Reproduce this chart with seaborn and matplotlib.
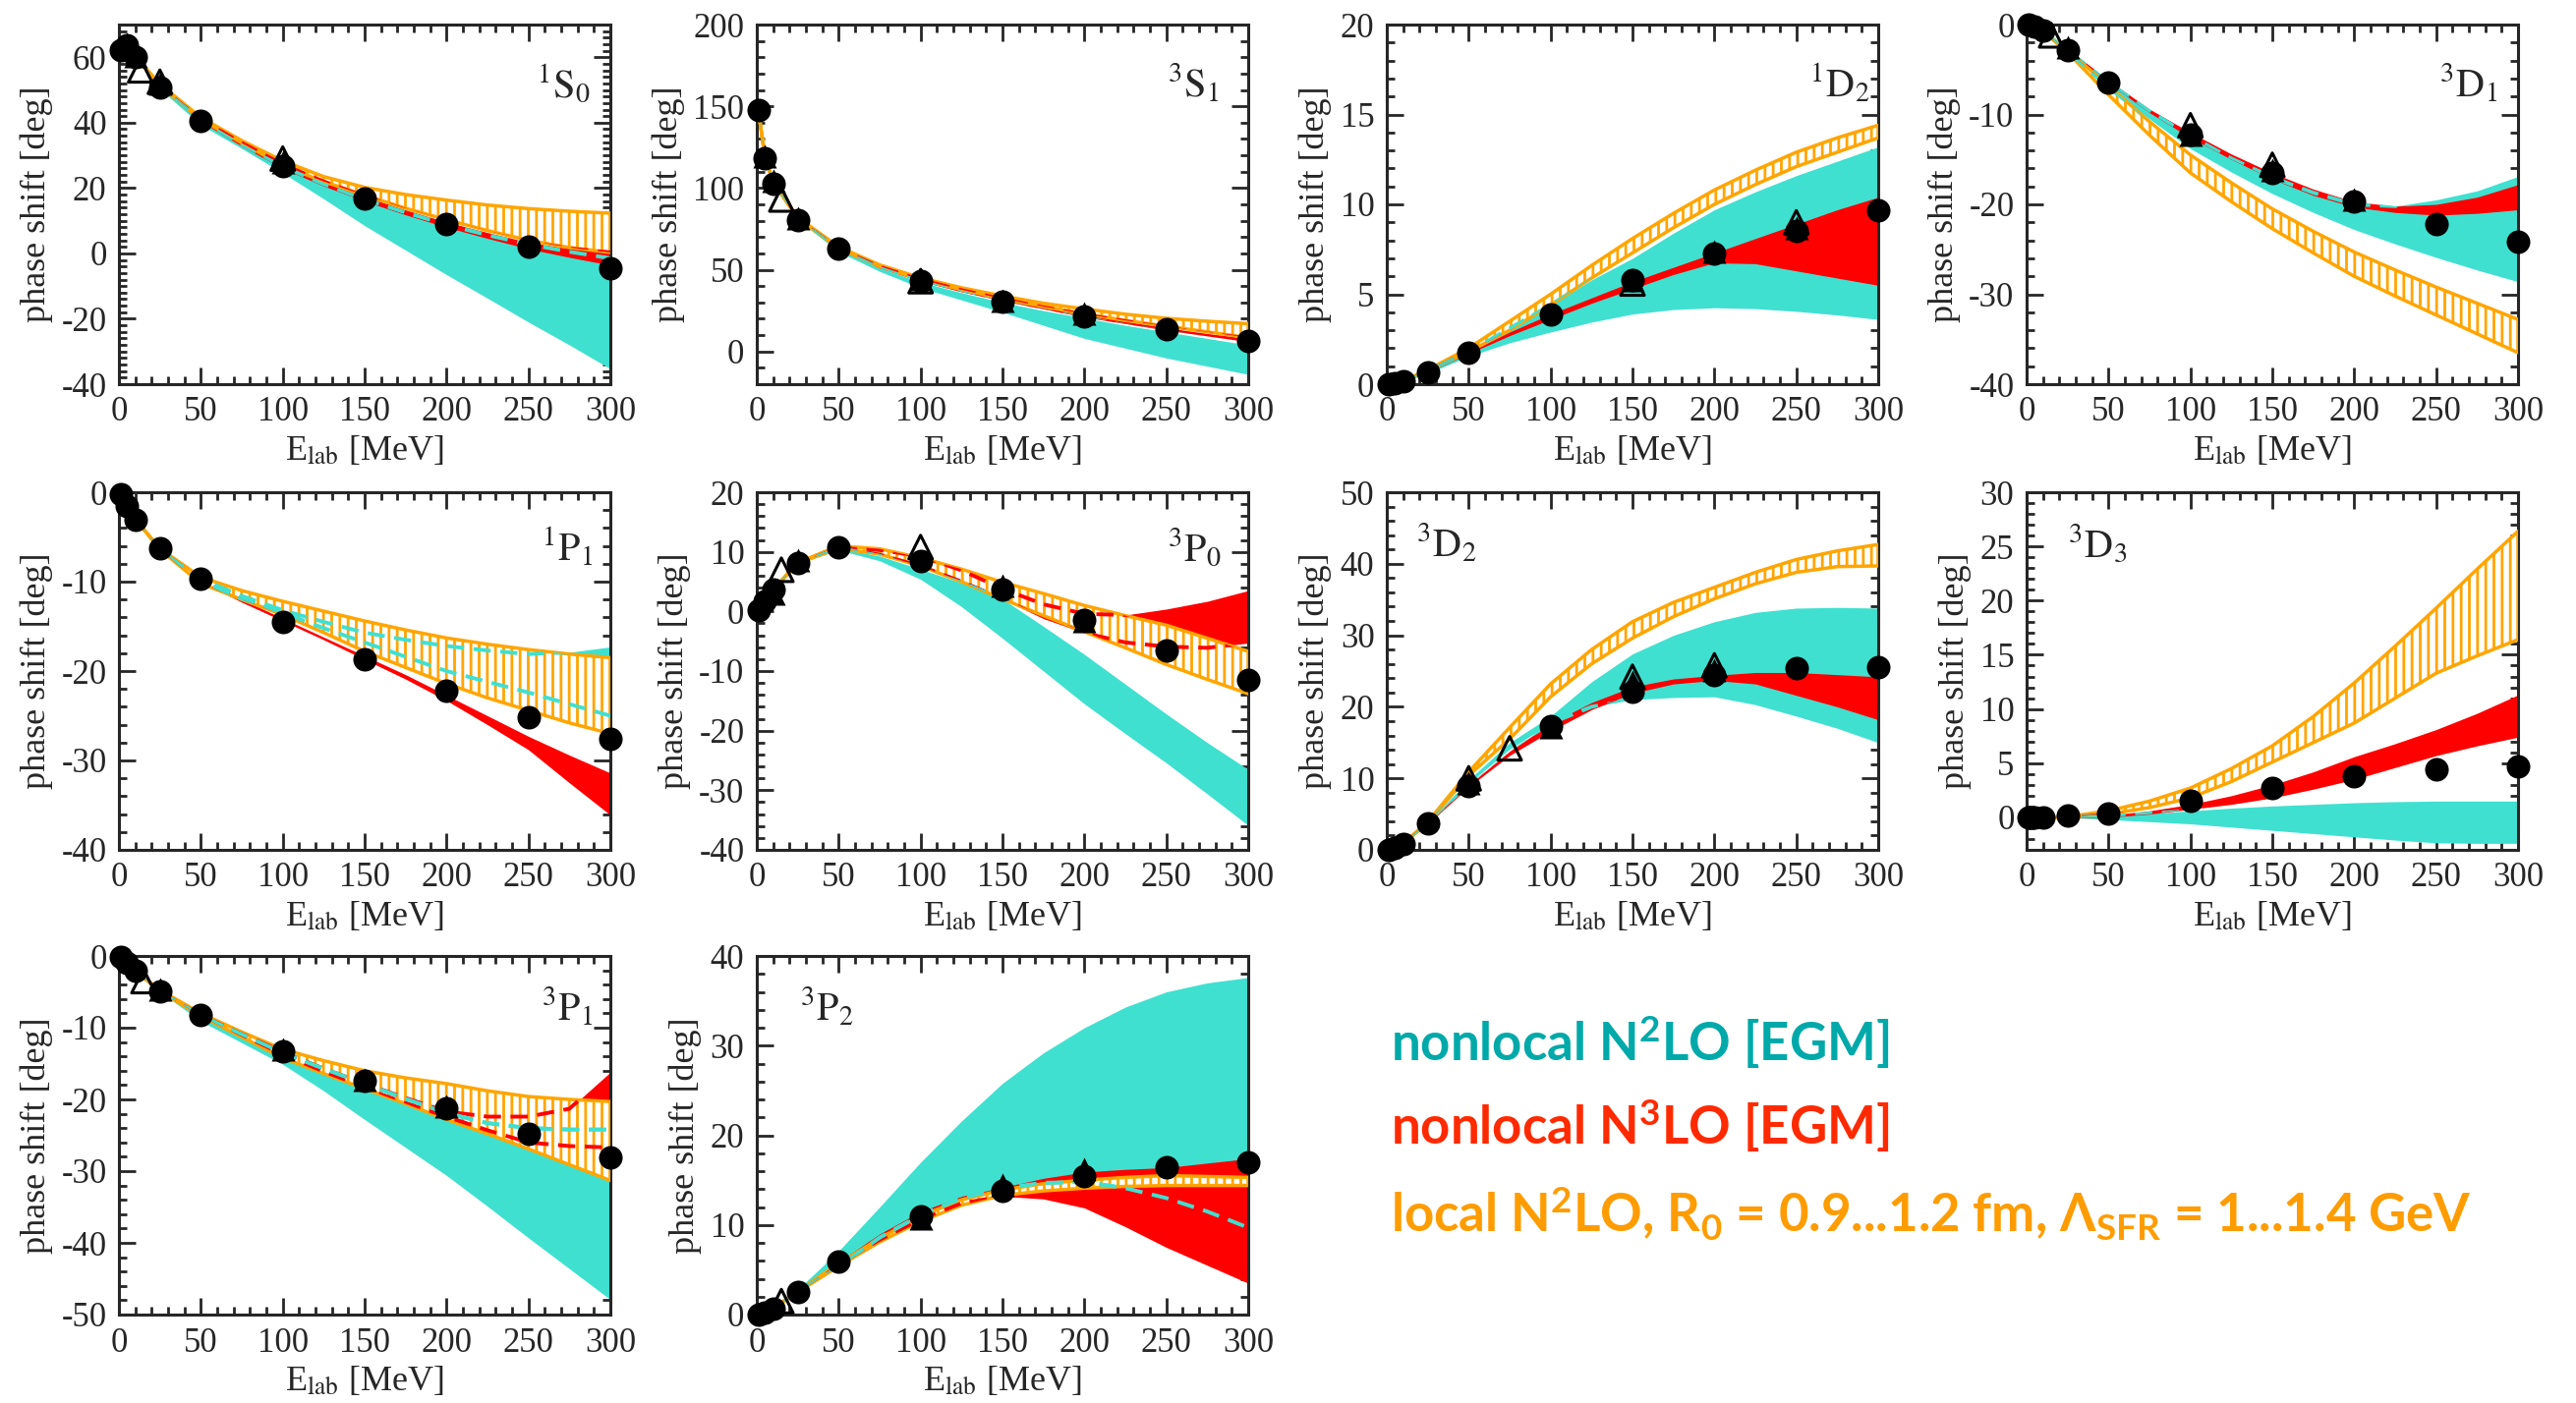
import numpy as np
import pandas as pd
import seaborn as sns
import matplotlib
matplotlib.use("Agg")
import matplotlib.pyplot as plt
from matplotlib.ticker import MultipleLocator

# energies [MeV]
e_band = [1, 5, 10, 25, 50, 75, 100, 125, 150, 175, 200, 225, 250, 275, 300]
e_pwa = [1, 5, 10, 25, 50, 100, 150, 200, 250, 300]

# ---------------- 1S0
s10_pwa = [62.1, 63.6, 60.0, 50.9, 40.5, 26.8, 16.9, 8.9, 2.0, -4.5]
s10_tri_e, s10_tri = [5, 10, 25, 100], [64.0, 60.5, 52.0, 28.0]
s10_otri_e, s10_otri = [13, 25, 100], [56.0, 52.5, 29.0]
s10_cyan_lo = [62.0, 63.4, 59.6, 50.3, 39.3, 32.1, 24.6, 16.7, 8.5, 1.0, -6.5, -13.7, -21.0, -28.0, -35.3]
s10_cyan_hi = [62.0, 63.6, 60.0, 51.0, 40.6, 32.8, 26.5, 21.0, 16.5, 12.5, 8.8, 5.6, 2.8, 0.5, -1.5]
s10_red_lo = [62.0, 63.6, 60.0, 50.9, 40.3, 32.8, 26.0, 20.6, 16.0, 11.8, 8.0, 4.6, 1.4, -1.2, -3.6]
s10_red_hi = [62.1, 63.7, 60.1, 51.3, 41.0, 33.8, 27.2, 22.0, 17.4, 13.3, 9.6, 6.4, 3.4, 1.5, 0.3]
s10_or_lo = [62.1, 63.7, 60.1, 51.3, 41.0, 33.8, 26.8, 22.0, 17.8, 13.8, 10.3, 7.0, 4.0, 1.8, 0.3]
s10_or_hi = [62.2, 63.8, 60.3, 51.8, 41.6, 34.5, 28.3, 23.5, 20.2, 18.0, 16.3, 14.8, 13.7, 12.9, 12.3]

# ---------------- 3S1
s31_pwa = [147.7, 118.2, 102.6, 80.6, 62.8, 43.2, 30.7, 21.2, 13.4, 6.6]
s31_tri_e, s31_tri = [5, 10, 25, 100, 150, 200], [119.5, 104.5, 81.5, 44.5, 31.0, 23.0]
s31_otri_e, s31_otri = [15, 100], [93.0, 43.0]
s31_cyan_lo = [146.0, 118.0, 102.5, 80.5, 61.0, 49.0, 39.0, 31.5, 24.0, 16.0, 8.0, 2.0, -4.0, -9.0, -14.0]
s31_cyan_hi = [146.5, 118.5, 103.0, 81.0, 62.5, 51.0, 42.5, 36.0, 30.0, 25.0, 20.5, 16.0, 12.0, 8.0, 4.0]
s31_red_lo = [146.5, 118.5, 103.0, 81.0, 62.5, 51.0, 43.0, 36.5, 31.0, 26.0, 21.0, 17.0, 13.0, 9.5, 6.0]
s31_red_hi = [147.0, 119.0, 103.5, 81.5, 63.3, 52.0, 44.0, 37.5, 32.0, 27.0, 22.5, 18.5, 14.5, 11.0, 8.0]
s31_or_lo = [147.0, 119.0, 103.5, 81.5, 63.3, 52.0, 44.0, 37.8, 32.3, 27.5, 23.0, 19.0, 15.5, 12.0, 8.5]
s31_or_hi = [147.2, 119.2, 103.8, 82.0, 64.0, 53.0, 45.0, 39.0, 34.0, 29.5, 26.0, 22.8, 20.3, 18.5, 17.0]

# ---------------- 1D2
d12_pwa = [0.0, 0.04, 0.16, 0.68, 1.73, 3.9, 5.79, 7.29, 8.53, 9.69]
d12_tri_e, d12_tri = [150, 200, 250], [5.8, 7.4, 8.7]
d12_otri_e, d12_otri = [150, 250], [5.6, 9.0]
d12_cyan_lo = [0.0, 0.04, 0.15, 0.6, 1.55, 2.3, 2.9, 3.45, 3.9, 4.15, 4.25, 4.2, 4.05, 3.85, 3.6]
d12_cyan_hi = [0.0, 0.04, 0.16, 0.7, 1.8, 3.1, 4.4, 5.8, 7.0, 8.4, 9.7, 10.7, 11.6, 12.4, 13.2]
d12_red_lo = [0.0, 0.04, 0.15, 0.65, 1.7, 2.7, 3.6, 4.5, 5.3, 6.1, 6.75, 6.7, 6.3, 5.9, 5.5]
d12_red_hi = [0.0, 0.04, 0.16, 0.7, 1.8, 2.9, 3.9, 4.8, 5.7, 6.5, 7.3, 8.1, 8.9, 9.7, 10.4]
d12_or_lo = [0.0, 0.04, 0.17, 0.72, 1.8, 3.0, 4.4, 5.9, 7.3, 8.7, 10.0, 11.1, 12.1, 12.9, 13.7]
d12_or_hi = [0.0, 0.05, 0.18, 0.8, 2.0, 3.5, 5.0, 6.6, 8.1, 9.5, 10.8, 11.9, 12.9, 13.7, 14.4]

# ---------------- 3D1
d31_pwa = [0.0, -0.18, -0.67, -2.8, -6.43, -12.23, -16.48, -19.71, -22.21, -24.14]
d31_tri_e, d31_tri = [25, 100, 150, 200], [-2.5, -12.2, -16.2, -19.5]
d31_otri_e, d31_otri = [15, 100, 150], [-1.2, -11.2, -15.6]
d31_cyan_lo = [0.0, -0.2, -0.7, -2.9, -7.0, -10.5, -13.8, -16.4, -18.8, -20.9, -22.8, -24.4, -25.9, -27.3, -28.6]
d31_cyan_hi = [0.0, -0.18, -0.67, -2.7, -6.3, -9.6, -12.4, -14.9, -17.0, -18.7, -20.0, -20.2, -19.5, -18.5, -16.9]
d31_red_lo = [0.0, -0.18, -0.67, -2.75, -6.5, -9.8, -12.6, -15.0, -17.2, -19.0, -20.3, -20.9, -21.2, -21.0, -20.6]
d31_red_hi = [0.0, -0.17, -0.65, -2.65, -6.2, -9.4, -12.0, -14.4, -16.5, -18.3, -19.7, -20.2, -20.0, -19.2, -17.8]
d31_or_lo = [0.0, -0.2, -0.75, -3.1, -7.8, -12.3, -16.5, -19.7, -22.7, -25.4, -28.0, -30.2, -32.3, -34.4, -36.5]
d31_or_hi = [0.0, -0.18, -0.7, -2.9, -6.8, -10.8, -14.5, -17.6, -20.5, -23.0, -25.3, -27.3, -29.2, -31.0, -32.8]

# ---------------- 1P1
p11_pwa = [-0.19, -1.5, -3.04, -6.31, -9.67, -14.52, -18.65, -22.18, -25.13, -27.58]
p11_tri_e, p11_tri = [], []
p11_otri_e, p11_otri = [], []
p11_cyan_lo = [-0.2, -1.5, -3.0, -6.4, -9.9, -11.9, -13.5, -15.2, -16.8, -18.4, -20.0, -21.2, -22.4, -23.7, -25.0]
p11_cyan_hi = [-0.2, -1.5, -3.0, -6.3, -9.7, -11.6, -13.2, -14.5, -15.7, -16.5, -17.2, -17.7, -18.1, -17.9, -17.3]
p11_red_lo = [-0.2, -1.5, -3.05, -6.4, -10.0, -12.3, -14.4, -16.5, -18.7, -20.9, -23.3, -26.0, -28.8, -32.5, -36.1]
p11_red_hi = [-0.19, -1.5, -3.0, -6.3, -9.8, -12.0, -14.1, -16.2, -18.3, -20.4, -22.7, -25.0, -27.3, -29.4, -31.4]
p11_or_lo = [-0.2, -1.5, -3.0, -6.4, -10.2, -12.0, -13.7, -15.7, -17.8, -19.6, -21.4, -23.0, -24.4, -25.8, -27.0]
p11_or_hi = [-0.19, -1.5, -3.0, -6.3, -9.5, -11.0, -12.2, -13.3, -14.4, -15.4, -16.3, -17.0, -17.6, -18.1, -18.5]

# ---------------- 3P0
p30_pwa = [0.18, 1.63, 3.65, 8.13, 10.7, 8.46, 3.69, -1.44, -6.51, -11.47]
p30_tri_e, p30_tri = [10, 25, 150, 200], [3.0, 8.7, 4.3, -1.6]
p30_otri_e, p30_otri = [15, 100], [7.0, 10.8]
p30_cyan_lo = [0.2, 1.6, 3.6, 8.0, 10.3, 8.5, 5.4, 0.8, -4.5, -10.0, -15.5, -20.5, -25.4, -30.6, -35.9]
p30_cyan_hi = [0.2, 1.6, 3.6, 8.1, 10.6, 9.3, 7.1, 4.8, 2.1, -2.5, -7.2, -12.2, -17.2, -22.0, -26.5]
p30_red_lo = [0.2, 1.6, 3.6, 8.1, 10.7, 9.5, 7.6, 5.0, 2.1, -1.2, -3.6, -5.2, -5.9, -6.1, -5.3]
p30_red_hi = [0.2, 1.65, 3.7, 8.2, 10.9, 10.3, 9.3, 6.9, 3.8, 1.2, -0.4, -0.6, 0.4, 1.7, 3.5]
p30_or_lo = [0.2, 1.6, 3.6, 8.1, 10.6, 9.6, 7.6, 5.0, 2.1, -0.7, -3.4, -6.1, -8.9, -11.4, -13.8]
p30_or_hi = [0.2, 1.65, 3.7, 8.2, 11.0, 10.5, 9.0, 7.1, 4.9, 3.0, 1.0, -0.7, -2.3, -4.5, -6.7]

# ---------------- 3D2
d32_pwa = [0.01, 0.22, 0.85, 3.71, 8.97, 17.28, 22.13, 24.51, 25.47, 25.61]
d32_tri_e, d32_tri = [50, 100, 150, 200], [9.3, 17.2, 23.5, 25.2]
d32_otri_e, d32_otri = [50, 75, 150, 200], [10.0, 14.2, 24.2, 25.8]
d32_cyan_lo = [0.0, 0.2, 0.8, 3.6, 9.3, 14.1, 17.7, 20.0, 21.0, 21.3, 21.4, 20.3, 18.7, 17.0, 15.0]
d32_cyan_hi = [0.0, 0.22, 0.85, 3.8, 9.8, 15.0, 18.7, 23.5, 27.4, 30.0, 31.9, 33.2, 33.8, 33.9, 33.8]
d32_red_lo = [0.0, 0.2, 0.82, 3.6, 8.8, 13.2, 16.6, 19.6, 21.9, 23.2, 23.7, 23.2, 21.6, 20.0, 18.2]
d32_red_hi = [0.0, 0.22, 0.86, 3.75, 9.1, 13.8, 17.7, 20.6, 22.8, 23.9, 24.4, 24.8, 24.8, 24.5, 24.2]
d32_or_lo = [0.0, 0.22, 0.85, 3.8, 10.4, 15.5, 21.4, 26.0, 29.6, 32.6, 35.1, 37.2, 38.8, 39.6, 39.7]
d32_or_hi = [0.0, 0.23, 0.9, 3.9, 10.9, 17.1, 23.2, 28.0, 31.9, 34.6, 36.7, 38.8, 40.6, 41.8, 42.7]

# ---------------- 3D3
d33_pwa = [0.0, 0.0, 0.0, 0.15, 0.36, 1.5, 2.7, 3.8, 4.4, 4.7]
d33_tri_e, d33_tri = [], []
d33_otri_e, d33_otri = [], []
d33_cyan_lo = [0.0, 0.0, 0.0, -0.02, -0.2, -0.4, -0.6, -0.9, -1.2, -1.5, -1.8, -2.1, -2.35, -2.4, -2.4]
d33_cyan_hi = [0.0, 0.0, 0.0, 0.02, 0.1, 0.35, 0.6, 0.85, 1.05, 1.2, 1.35, 1.45, 1.5, 1.5, 1.5]
d33_red_lo = [0.0, 0.0, 0.0, 0.0, 0.0, 0.3, 0.75, 1.2, 1.8, 2.6, 3.5, 4.6, 5.7, 6.6, 7.4]
d33_red_hi = [0.0, 0.0, 0.0, 0.02, 0.2, 0.6, 1.2, 2.0, 3.0, 4.2, 5.6, 6.8, 8.1, 9.6, 11.3]
d33_or_lo = [0.0, 0.0, 0.0, 0.03, 0.3, 0.9, 1.8, 3.3, 5.1, 6.9, 8.7, 11.0, 13.3, 14.9, 16.4]
d33_or_hi = [0.0, 0.0, 0.0, 0.05, 0.6, 1.5, 2.7, 4.5, 6.6, 9.3, 12.4, 15.8, 19.3, 22.9, 26.4]

# ---------------- 3P1
p31_pwa = [-0.11, -0.94, -2.06, -4.88, -8.25, -13.24, -17.46, -21.3, -24.84, -28.07]
p31_tri_e, p31_tri = [25, 100, 150, 200], [-4.6, -13.0, -17.2, -21.0]
p31_otri_e, p31_otri = [15], [-3.5]
p31_cyan_lo = [-0.1, -0.95, -2.1, -5.0, -9.1, -12.1, -15.1, -18.8, -22.8, -26.7, -30.6, -34.9, -39.3, -43.6, -47.9]
p31_cyan_hi = [-0.1, -0.93, -2.05, -4.85, -8.3, -10.9, -13.5, -15.7, -17.8, -19.9, -21.9, -23.3, -24.0, -24.2, -24.2]
p31_red_lo = [-0.1, -0.94, -2.07, -4.9, -8.3, -11.0, -13.7, -16.1, -18.5, -20.5, -22.4, -24.3, -26.0, -26.5, -26.7]
p31_red_hi = [-0.1, -0.93, -2.05, -4.8, -8.1, -10.8, -13.4, -15.7, -17.8, -19.8, -21.7, -22.4, -22.4, -21.3, -16.2]
p31_or_lo = [-0.1, -0.95, -2.08, -4.9, -8.4, -11.3, -14.2, -16.4, -18.5, -20.6, -22.8, -24.8, -26.9, -29.1, -31.3]
p31_or_hi = [-0.1, -0.92, -2.02, -4.75, -8.0, -10.6, -13.0, -14.6, -16.0, -17.0, -17.8, -18.8, -19.6, -20.0, -20.3]

# ---------------- 3P2
p32_pwa = [0.02, 0.25, 0.71, 2.56, 5.89, 10.94, 13.84, 15.46, 16.39, 16.95]
p32_tri_e, p32_tri = [100, 150, 200], [10.7, 14.5, 16.2]
p32_otri_e, p32_otri = [15], [1.5]
p32_cyan_lo = [0.0, 0.25, 0.7, 2.5, 5.3, 8.6, 11.1, 13.0, 14.1, 14.7, 14.8, 14.1, 13.0, 11.5, 9.7]
p32_cyan_hi = [0.0, 0.26, 0.75, 2.8, 7.1, 12.0, 17.0, 21.6, 25.8, 29.2, 32.0, 34.3, 36.0, 37.0, 37.6]
p32_red_lo = [0.0, 0.25, 0.7, 2.5, 5.5, 8.3, 10.6, 12.4, 13.2, 12.9, 11.9, 9.8, 7.5, 5.5, 3.5]
p32_red_hi = [0.02, 0.26, 0.72, 2.6, 5.9, 9.0, 11.5, 13.2, 14.2, 15.2, 15.9, 16.2, 16.4, 16.9, 17.4]
p32_or_lo = [0.02, 0.25, 0.7, 2.5, 5.4, 8.1, 10.4, 12.2, 13.3, 13.8, 14.1, 14.3, 14.4, 14.4, 14.4]
p32_or_hi = [0.02, 0.26, 0.73, 2.6, 5.7, 8.5, 11.0, 12.8, 13.9, 14.6, 15.0, 15.3, 15.5, 15.4, 15.3]

CYAN = "#40E0D0"
RED = "#FF0000"
ORANGE = "#FFA500"

# label, row, col, ylim, major, minor, label x, label y, data
panels = [
    ("$^{1}\\mathrm{S}_{0}$", 0, 0, (-40, 70), 20, 2, 0.85, 0.80,
     s10_pwa, s10_tri_e, s10_tri, s10_otri_e, s10_otri,
     s10_cyan_lo, s10_cyan_hi, s10_red_lo, s10_red_hi, s10_or_lo, s10_or_hi),
    ("$^{3}\\mathrm{S}_{1}$", 0, 1, (-20, 200), 50, 10, 0.835, 0.80,
     s31_pwa, s31_tri_e, s31_tri, s31_otri_e, s31_otri,
     s31_cyan_lo, s31_cyan_hi, s31_red_lo, s31_red_hi, s31_or_lo, s31_or_hi),
    ("$^{1}\\mathrm{D}_{2}$", 0, 2, (0, 20), 5, 1, 0.86, 0.80,
     d12_pwa, d12_tri_e, d12_tri, d12_otri_e, d12_otri,
     d12_cyan_lo, d12_cyan_hi, d12_red_lo, d12_red_hi, d12_or_lo, d12_or_hi),
    ("$^{3}\\mathrm{D}_{1}$", 0, 3, (-40, 0), 10, 2, 0.84, 0.80,
     d31_pwa, d31_tri_e, d31_tri, d31_otri_e, d31_otri,
     d31_cyan_lo, d31_cyan_hi, d31_red_lo, d31_red_hi, d31_or_lo, d31_or_hi),
    ("$^{1}\\mathrm{P}_{1}$", 1, 0, (-40, 0), 10, 2, 0.86, 0.81,
     p11_pwa, p11_tri_e, p11_tri, p11_otri_e, p11_otri,
     p11_cyan_lo, p11_cyan_hi, p11_red_lo, p11_red_hi, p11_or_lo, p11_or_hi),
    ("$^{3}\\mathrm{P}_{0}$", 1, 1, (-40, 20), 10, 2, 0.835, 0.81,
     p30_pwa, p30_tri_e, p30_tri, p30_otri_e, p30_otri,
     p30_cyan_lo, p30_cyan_hi, p30_red_lo, p30_red_hi, p30_or_lo, p30_or_hi),
    ("$^{3}\\mathrm{D}_{2}$", 1, 2, (0, 50), 10, 2, 0.06, 0.82,
     d32_pwa, d32_tri_e, d32_tri, d32_otri_e, d32_otri,
     d32_cyan_lo, d32_cyan_hi, d32_red_lo, d32_red_hi, d32_or_lo, d32_or_hi),
    ("$^{3}\\mathrm{D}_{3}$", 1, 3, (-3, 30), 5, 1, 0.085, 0.82,
     d33_pwa, d33_tri_e, d33_tri, d33_otri_e, d33_otri,
     d33_cyan_lo, d33_cyan_hi, d33_red_lo, d33_red_hi, d33_or_lo, d33_or_hi),
    ("$^{3}\\mathrm{P}_{1}$", 2, 0, (-50, 0), 10, 2, 0.86, 0.82,
     p31_pwa, p31_tri_e, p31_tri, p31_otri_e, p31_otri,
     p31_cyan_lo, p31_cyan_hi, p31_red_lo, p31_red_hi, p31_or_lo, p31_or_hi),
    ("$^{3}\\mathrm{P}_{2}$", 2, 1, (0, 40), 10, 2, 0.088, 0.82,
     p32_pwa, p32_tri_e, p32_tri, p32_otri_e, p32_otri,
     p32_cyan_lo, p32_cyan_hi, p32_red_lo, p32_red_hi, p32_or_lo, p32_or_hi),
]

sns.set_style("ticks")
plt.rcParams["font.family"] = ["Liberation Serif", "DejaVu Serif"]
plt.rcParams["axes.unicode_minus"] = False
plt.rcParams["mathtext.fontset"] = "custom"
plt.rcParams["mathtext.rm"] = "Lato:bold"
plt.rcParams["mathtext.bf"] = "Lato:bold"
plt.rcParams["mathtext.it"] = "Lato:bold"
plt.rcParams["hatch.linewidth"] = 2.0
plt.rcParams["hatch.color"] = ORANGE

W, H = 2621, 1428
fig = plt.figure(figsize=(W / 100, H / 100), dpi=100)

col_left = [121, 770, 1411, 2062]
row_top = [25, 501, 973]
row_bot = [391, 865, 1338]
ax_w = 500

dash = (0, (4.5, 2.5))


def dashed_edge(ax, yy, col, clip_paths):
    # band edge, shown only where another band covers it
    for path in clip_paths:
        sns.lineplot(x=e_band, y=yy, ax=ax, color=col, lw=2.8,
                     linestyle=dash, zorder=4, sort=False, estimator=None)
        ax.lines[-1].set_clip_path(path, ax.transData)


for p in panels:
    (lab, r, c, ylim, major, minor, lx, ly, pwa, te, tv, ote, otv,
     clo, chi, rlo, rhi, olo, ohi) = p
    ax = fig.add_axes([col_left[c] / W, 1 - row_bot[r] / H,
                       ax_w / W, (row_bot[r] - row_top[r]) / H])

    ax.fill_between(e_band, clo, chi, color=CYAN, lw=0, zorder=1)
    poly_r = ax.fill_between(e_band, rlo, rhi, color=RED, lw=0, zorder=2)
    poly_o = ax.fill_between(e_band, olo, ohi, facecolor="white", edgecolor=ORANGE,
                             hatch="||", lw=2.5, zorder=3)
    path_r = poly_r.get_paths()[0]
    path_o = poly_o.get_paths()[0]
    for yy in (rlo, rhi):
        dashed_edge(ax, yy, RED, [path_o])
    for yy in (clo, chi):
        dashed_edge(ax, yy, CYAN, [path_r, path_o])

    sns.scatterplot(x=e_pwa, y=pwa, ax=ax, color="black", s=300, marker="o",
                    linewidth=0, zorder=6, clip_on=False)
    if te:
        sns.scatterplot(x=te, y=tv, ax=ax, color="black", s=300, marker="^",
                        linewidth=0, zorder=6, clip_on=False)
    if ote:
        ax.scatter(ote, otv, s=300, marker="^", facecolors="none",
                   edgecolors="black", linewidths=2.2, zorder=7, clip_on=False)

    ax.set_xlim(0, 300)
    ax.set_ylim(*ylim)
    ax.xaxis.set_major_locator(MultipleLocator(50))
    ax.xaxis.set_minor_locator(MultipleLocator(10))
    ax.yaxis.set_major_locator(MultipleLocator(major))
    ax.yaxis.set_minor_locator(MultipleLocator(minor))
    ax.tick_params(which="both", direction="in", top=True, right=True,
                   width=2, labelsize=25, pad=9)
    ax.tick_params(which="major", length=12)
    ax.tick_params(which="minor", length=6)
    for s in ax.spines.values():
        s.set_linewidth(2.2)
    ax.set_xlabel(r"E$_{\mathrm{lab}}$ [MeV]", fontsize=26, labelpad=4,
                  math_fontfamily="stix")
    ax.set_ylabel("phase shift [deg]", fontsize=26, labelpad=6)
    ax.text(lx, ly, lab, transform=ax.transAxes, fontsize=29,
            math_fontfamily="stix", ha="left", va="baseline", zorder=8)

leg_font = ["Lato", "DejaVu Sans"]
fig.text(0.540, 0.2437, r"nonlocal N$^{2}$LO [EGM]", color="#00A9A9",
         fontsize=38, fontweight="bold", family=leg_font)
fig.text(0.540, 0.1842, r"nonlocal N$^{3}$LO [EGM]", color="#FF2A00",
         fontsize=38, fontweight="bold", family=leg_font)
fig.text(0.540, 0.1211,
         r"local N$^{2}$LO, R$_{0}$ = 0.9...1.2 fm, $\Lambda_{\mathrm{SFR}}$ = 1...1.4 GeV",
         color="#FF9C00", fontsize=38, fontweight="bold", family=leg_font)

fig.savefig("out.png", dpi=100)
